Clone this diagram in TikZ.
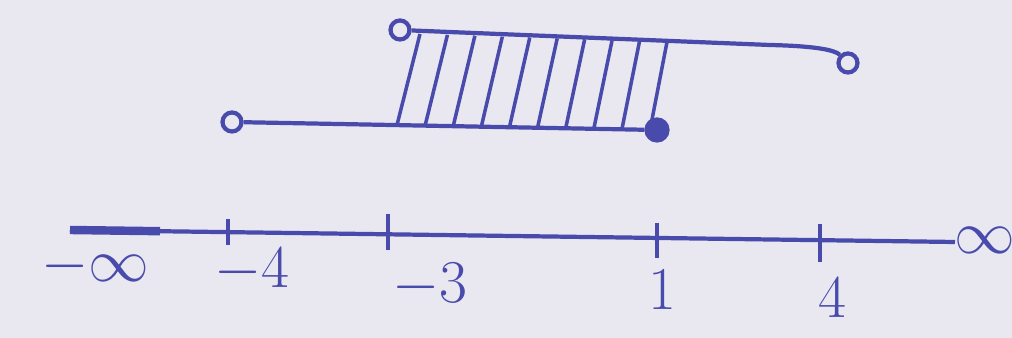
\documentclass[tikz,border=0pt]{standalone}
\usetikzlibrary{calc}
\definecolor{pen}{RGB}{72,74,172}
\definecolor{paper}{RGB}{233,231,240}
\tikzset{
  openpt/.style={circle, draw=pen, fill=paper, line width=1.2pt, inner sep=0pt, minimum size=1.9mm},
  closedpt/.style={circle, draw=pen, fill=pen, inner sep=0pt, minimum size=2.1mm},
  tick/.style={line width=1.3pt},
  numlabel/.style={text=pen, font=\fontsize{17}{19}\selectfont}
}
\begin{document}
\begin{tikzpicture}[line width=1.2pt, draw=pen]
  \fill[paper] (0,0) rectangle (10.12,3.38);
  \useasboundingbox (0,0) rectangle (10.12,3.38);
  % number line
  \coordinate (AL) at (0.70,1.08); \coordinate (AT) at (1.60,1.068);
  \coordinate (AR) at (9.55,0.96);
  \draw[pen, line width=2.4pt] (AL) -- (AT);
  \draw[pen] (AL) -- (AR);
  \draw[pen, tick] (2.28,1.19) -- (2.28,0.93);
  \draw[pen, tick] (3.88,1.24) -- (3.88,0.88);
  \draw[pen, tick] (6.57,1.15) -- (6.57,0.80);
  \draw[pen, tick] (8.20,1.14) -- (8.20,0.76);
  \node[numlabel] (lminf) at (0.95,0.72) {$-\infty$};
  \node[numlabel] (lm4) at (2.52,0.68) {$-4$};
  \node[numlabel] (lm3) at (4.30,0.53) {$-3$};
  \node[numlabel] (l1) at (6.62,0.48) {$1$};
  \node[numlabel] (l4) at (8.32,0.40) {$4$};
  \node[numlabel] (linf) at (9.85,0.98) {$\infty$};
  % hatched overlap
  \coordinate (HTL) at (4.20,3.04); \coordinate (HTR) at (6.67,2.96);
  \coordinate (HBL) at (3.97,2.13); \coordinate (HBR) at (6.50,2.08);
  \foreach \i in {0,...,9}
    \draw[pen, line width=1pt] ($(HTL)!\i/9!(HTR)$) -- ($(HBL)!\i/9!(HBR)$);
  % intervals
  \node[openpt] (ua) at (4.00,3.08) {};
  \coordinate (ub) at (7.70,2.93);
  \node[openpt] (uc) at (8.48,2.75) {};
  \draw[pen] (ua) -- (ub) .. controls (8.15,2.92) and (8.35,2.88) .. (uc);
  \node[openpt] (la) at (2.32,2.16) {};
  \node[closedpt] (lb) at (6.57,2.08) {};
  \draw[pen] (la) -- (lb);
\end{tikzpicture}
\end{document}
